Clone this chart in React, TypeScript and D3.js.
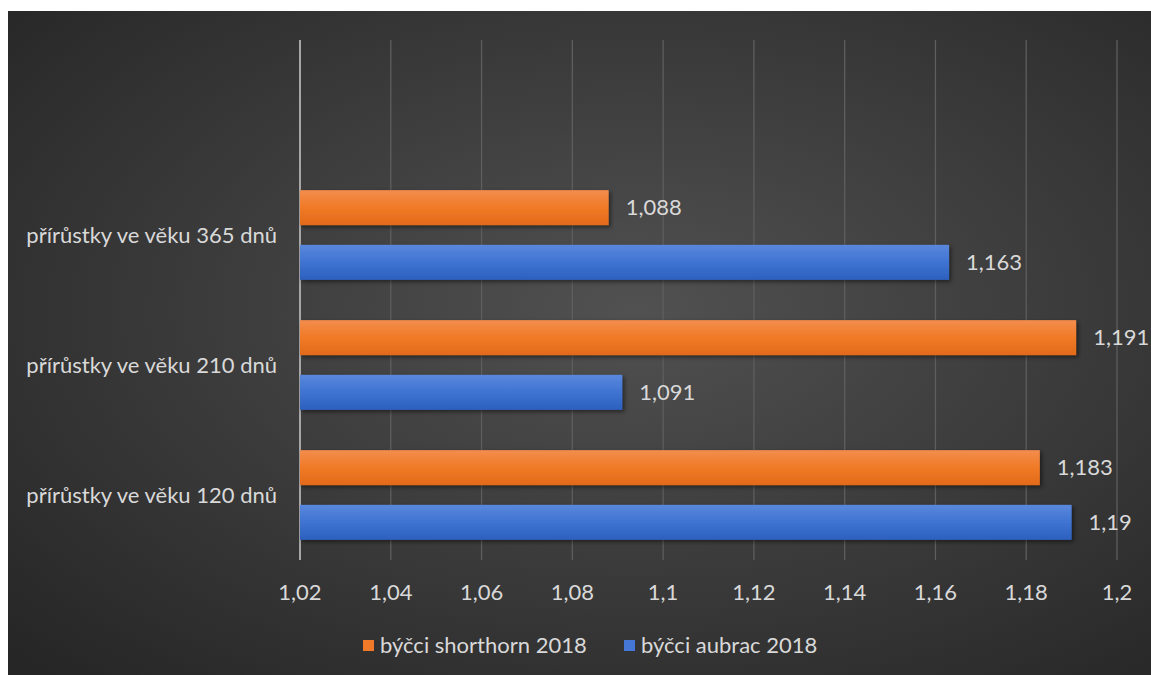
import React from "react";
import * as d3 from "d3";

const categories = ["", "přírůstky ve věku 365 dnů", "přírůstky ve věku 210 dnů", "přírůstky ve věku 120 dnů"];
const seriesNames = ["býčci shorthorn 2018", "býčci aubrac 2018"];
const shorthorn = [null, 1.088, 1.191, 1.183];
const aubrac = [null, 1.163, 1.091, 1.19];
const xTicks = [1.02, 1.04, 1.06, 1.08, 1.1, 1.12, 1.14, 1.16, 1.18, 1.2];

const W = 1151;
const H = 675;
const FONT = "Lato, 'Open Sans', sans-serif";
const TXT = "#d9d9d9";
const FS = 22;

const fmt = (v: number) => String(v).replace(".", ",");

export default function App() {
  const left = 300, right = 1117, top = 40, bottom = 560;
  const x = d3.scaleLinear().domain([1.02, 1.2]).range([left, right]);
  const y = d3.scaleBand<string>().domain(categories).range([top, bottom]).paddingInner(0.31).paddingOuter(0.155);
  const sub = d3.scaleBand<number>().domain([0, 1]).range([0, y.bandwidth()]).paddingInner(0.36);
  const series = [
    { name: seriesNames[0], values: shorthorn, grad: "gOr", sw: "#f07a2a" },
    { name: seriesNames[1], values: aubrac, grad: "gBl", sw: "#4477d6" },
  ];
  return (
    <svg width={W} height={H} style={{ position: "absolute", left: 0, top: 0 }}>
      <defs>
        <radialGradient id="bg" cx="0.55" cy="0.45" r="0.75">
          <stop offset="0" stopColor="#515151" />
          <stop offset="1" stopColor="#262626" />
        </radialGradient>
        <linearGradient id="gOr" x1="0" y1="0" x2="0" y2="1">
          <stop offset="0" stopColor="#f38d4d" />
          <stop offset="0.5" stopColor="#f07a26" />
          <stop offset="1" stopColor="#e26a1a" />
        </linearGradient>
        <linearGradient id="gBl" x1="0" y1="0" x2="0" y2="1">
          <stop offset="0" stopColor="#5a88dc" />
          <stop offset="0.5" stopColor="#3f73d2" />
          <stop offset="1" stopColor="#2c60bf" />
        </linearGradient>
        <filter id="sh" x="-5%" y="-20%" width="110%" height="150%">
          <feDropShadow dx="2" dy="2" stdDeviation="2" floodColor="#000" floodOpacity="0.5" />
        </filter>
      </defs>
      <rect x={0} y={0} width={W} height={H} fill="#fff" />
      <rect x={8} y={11} width={W - 8} height={H - 11} fill="url(#bg)" />
      {xTicks.map((t) => (
        <line key={t} x1={x(t)} x2={x(t)} y1={top} y2={bottom} stroke={t === 1.02 ? "#a6a6a6" : "#5e5e5e"} strokeWidth={t === 1.02 ? 2 : 1.3} />
      ))}
      {categories.map((c, ci) =>
        series.map((s, si) => {
          const v = s.values[ci];
          if (v == null) return null;
          const by = (y(c) as number) + (sub(si) as number);
          const bh = sub.bandwidth();
          return (
            <g key={c + si}>
              <rect x={x(1.02)} y={by} width={x(v) - x(1.02)} height={bh} fill={`url(#${s.grad})`} filter="url(#sh)" />
              <text x={x(v) + 17} y={by + bh / 2} dy="0.35em" fill={TXT} fontFamily={FONT} fontSize={FS}>{fmt(v)}</text>
            </g>
          );
        })
      )}
      {categories.map((c) =>
        c ? (
          <text key={c} x={left - 23} y={(y(c) as number) + y.bandwidth() / 2} dy="0.35em" textAnchor="end" fill={TXT} fontFamily={FONT} fontSize={FS}>{c}</text>
        ) : null
      )}
      {xTicks.map((t) => (
        <text key={"l" + t} x={x(t)} y={592} dy="0.35em" textAnchor="middle" fill={TXT} fontFamily={FONT} fontSize={FS}>{fmt(t)}</text>
      ))}
      {series.map((s, i) => {
        const lx = i === 0 ? 363 : 624;
        return (
          <g key={s.name}>
            <rect x={lx} y={640} width={11} height={11} fill={s.sw} />
            <text x={lx + 17} y={645.5} dy="0.35em" fill={TXT} fontFamily={FONT} fontSize={FS}>{s.name}</text>
          </g>
        );
      })}
    </svg>
  );
}
